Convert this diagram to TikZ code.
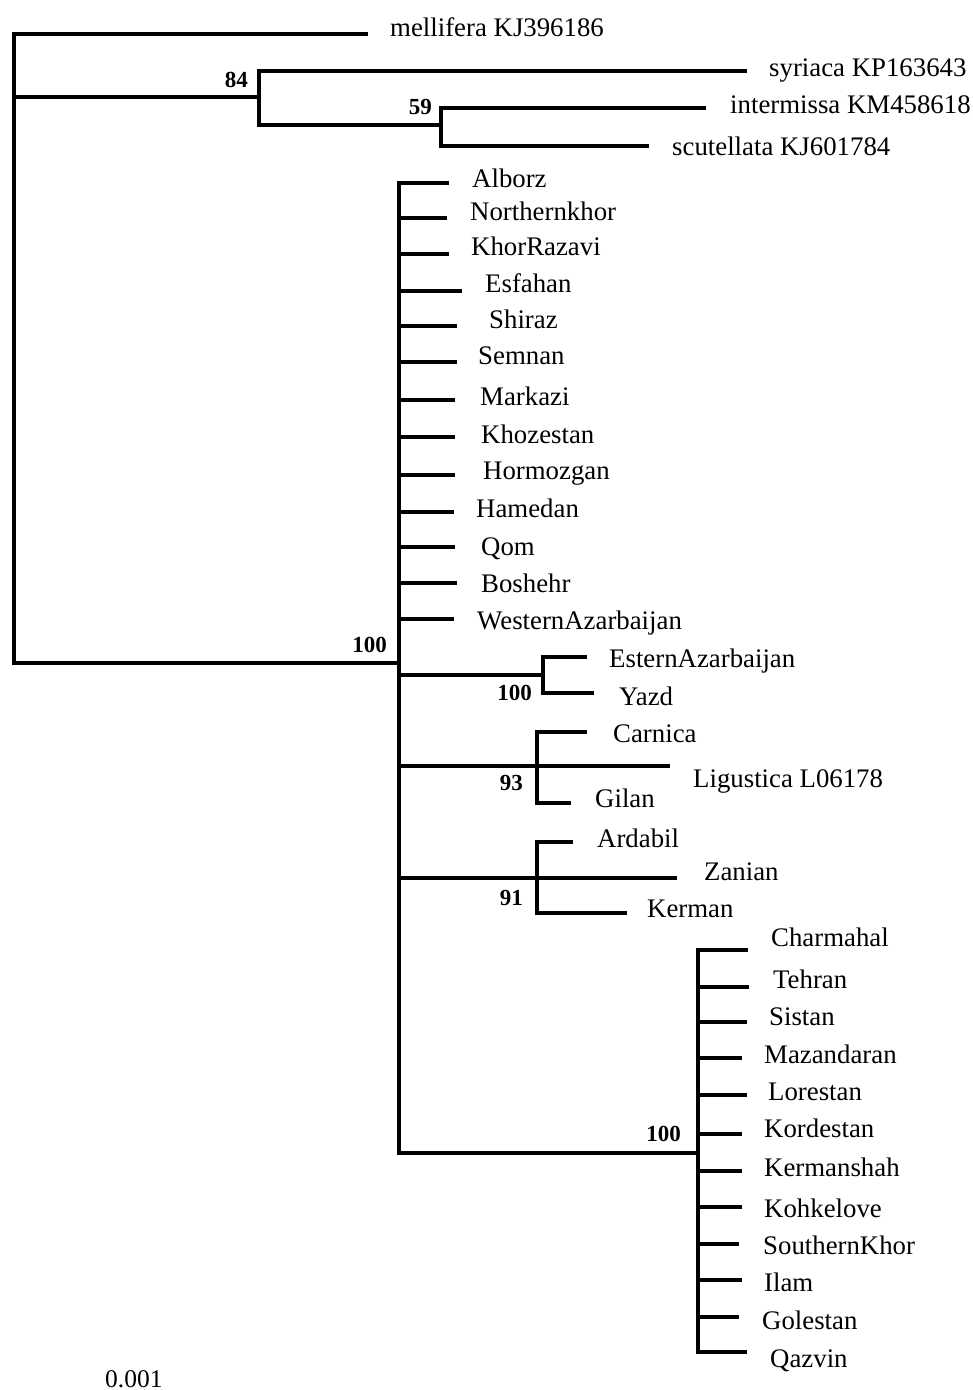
\documentclass[tikz,border=0pt]{standalone}
\usepackage{fontspec}
\setmainfont{Liberation Serif}

\begin{document}
\begin{tikzpicture}[
  x=1pt, y=-1pt,
  branch/.style={line width=3.5pt, line cap=rect, line join=miter},
  taxon/.style={anchor=base west, inner sep=0pt, font=\fontsize{26.8}{30}\selectfont},
  boot/.style={anchor=base east, inner sep=0pt, font=\fontsize{23}{26}\selectfont\bfseries}
]
\useasboundingbox[fill=white] (0,0) rectangle (973,1390);

% internal nodes
\coordinate (root) at (14,348);
\coordinate (n84) at (259,97);
\coordinate (n59) at (441,125);
\coordinate (iran) at (399,663);
\coordinate (eyz) at (543,675);
\coordinate (car) at (537,766);
\coordinate (ard) at (537,878);
\coordinate (bot) at (698,1153);

% outgroups
\coordinate (mel-tip) at (366,34);
\coordinate (syr-tip) at (745,71);
\coordinate (int-tip) at (704,108);
\coordinate (scu-tip) at (647,146);
\coordinate (lig-tip) at (668,766);
\node[taxon] (mel) at (390,36) {mellifera KJ396186};
\node[taxon] (syr) at (769,76) {syriaca KP163643};
\node[taxon] (int) at (730,113) {intermissa KM458618};
\node[taxon] (scu) at (672,155) {scutellata KJ601784};
\node[taxon] (lig) at (693,787) {Ligustica L06178};

\draw[branch] (root) |- (mel-tip);
\draw[branch] (root) |- (n84);
\draw[branch] (root) |- (iran);
\draw[branch] (n84) |- (syr-tip);
\draw[branch] (n84) |- (n59);
\draw[branch] (n59) |- (int-tip);
\draw[branch] (n59) |- (scu-tip);
\draw[branch] (iran) |- (eyz);
\draw[branch] (iran) |- (car);
\draw[branch] (iran) |- (ard);
\draw[branch] (iran) |- (bot);
\draw[branch] (car) -- (lig-tip);

% leaves: name/parent/tip x/branch y/label x/baseline
\foreach \n/\p/\tx/\ly/\lx/\by in {
  Alborz/iran/447/183/472/187, Northernkhor/iran/445/218/470/220,
  KhorRazavi/iran/447/254/471/255, Esfahan/iran/460/291/485/292,
  Shiraz/iran/455/326/489/328, Semnan/iran/455/362/478/364,
  Markazi/iran/453/400/480/405, Khozestan/iran/453/437/481/443,
  Hormozgan/iran/453/475/483/479, Hamedan/iran/452/512/476/517,
  Qom/iran/453/547/481/555, Boshehr/iran/455/583/481/592,
  WesternAzarbaijan/iran/452/619/477/629,
  EsternAzarbaijan/eyz/585/657/609/667, Yazd/eyz/592/693/619/705,
  Carnica/car/585/732/613/742, Gilan/car/569/803/595/807,
  Ardabil/ard/571/842/597/847, Zanian/ard/675/878/704/880,
  Kerman/ard/625/913/647/917,
  Charmahal/bot/746/950/771/946, Tehran/bot/747/987/773/988,
  Sistan/bot/745/1022/769/1025, Mazandaran/bot/740/1058/764/1063,
  Lorestan/bot/745/1095/768/1100, Kordestan/bot/740/1134/764/1137,
  Kermanshah/bot/740/1171/764/1176, Kohkelove/bot/740/1207/764/1217,
  SouthernKhor/bot/737/1244/763/1254, Ilam/bot/740/1280/764/1291,
  Golestan/bot/737/1317/762/1329, Qazvin/bot/745/1352/770/1367}{
  \coordinate (\n-tip) at (\tx,\ly);
  \node[taxon] (\n) at (\lx,\by) {\n};
  \draw[branch] (\p) |- (\n-tip);
}

% bootstrap values
\node[boot] (b84) at (248,87) {84};
\node[boot] (b59) at (432,114) {59};
\node[boot] (biran) at (387,652) {100};
\node[boot] (beyz) at (532,700) {100};
\node[boot] (bcar) at (523,790) {93};
\node[boot] (bard) at (523,905) {91};
\node[boot] (bbot) at (681,1141) {100};

\node[anchor=base west, inner sep=0pt, font=\fontsize{25.5}{30}\selectfont] (scale) at (105,1387) {0.001};
\end{tikzpicture}
\end{document}
